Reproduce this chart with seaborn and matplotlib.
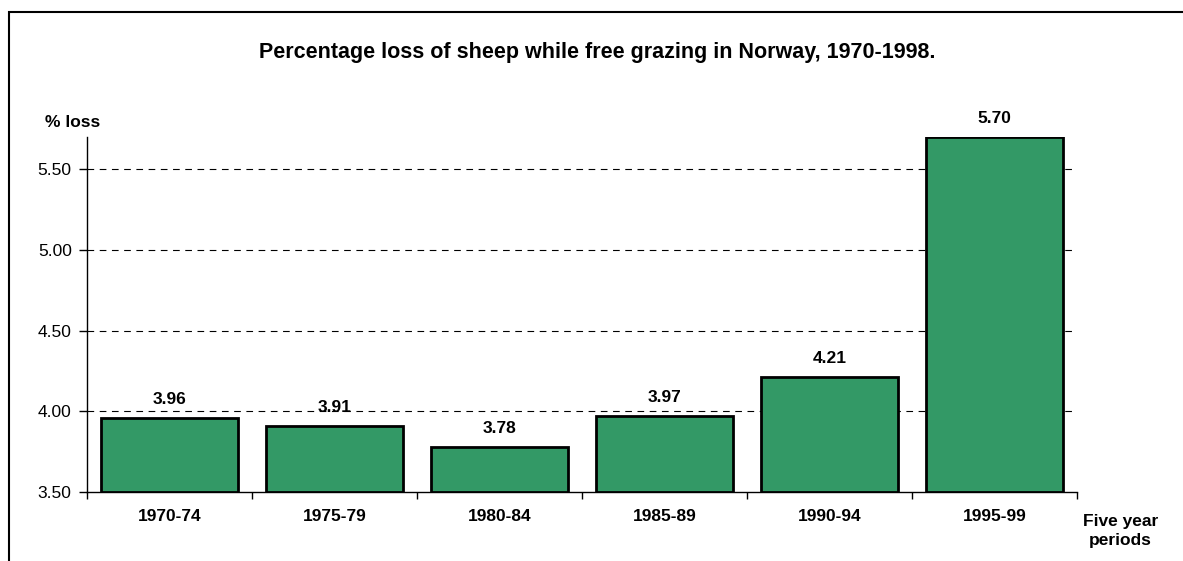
import numpy as np
import pandas as pd
import matplotlib
matplotlib.use("Agg")
import matplotlib.pyplot as plt
import seaborn as sns
from matplotlib.patches import Rectangle

periods = ["1970-74", "1975-79", "1980-84", "1985-89", "1990-94", "1995-99"]
loss_pct = [3.96, 3.91, 3.78, 3.97, 4.21, 5.70]
y_ticks = [3.50, 4.00, 4.50, 5.00, 5.50]

sns.set_style("white")
plt.rcParams["font.family"] = ["Liberation Sans", "DejaVu Sans"]
plt.rcParams["text.color"] = "black"
plt.rcParams["xtick.color"] = "black"
plt.rcParams["ytick.color"] = "black"

df = pd.DataFrame({"period": periods, "loss": loss_pct})

fig = plt.figure(figsize=(11.83, 5.61), dpi=100)
ax = fig.add_axes([0.0735, 0.123, 0.8369, 0.6328])

# bars start at 3.5, so draw them from the baseline
sns.barplot(data=df, x="period", y="loss", color="#339966", saturation=1,
            width=0.835, edgecolor="black", linewidth=2, ax=ax, zorder=3)
for p in ax.patches:
    h = p.get_height()
    p.set_y(3.5)
    p.set_height(h - 3.5)

ax.set_ylim(3.5, 5.7)
ax.set_xlim(-0.5, 5.5)
ax.set_yticks(y_ticks)
ax.set_yticklabels([f"{v:.2f}" for v in y_ticks], fontsize=12.5)
for v in y_ticks[1:]:
    ax.axhline(v, color="black", linestyle=(0, (6, 5)), linewidth=0.8, zorder=1)

# ticks on category boundaries, labels in the middle
ax.set_xticks(np.arange(-0.5, 6, 1))
ax.set_xticklabels([])
ax.set_xticks(range(len(periods)), minor=True)
ax.set_xticklabels(periods, minor=True, fontsize=12.5, fontweight="bold")
ax.tick_params(axis="x", which="minor", length=0, pad=12)
ax.tick_params(axis="x", which="major", direction="out", length=5, width=1, color="black", bottom=True)
ax.tick_params(axis="y", direction="out", length=6, width=1, color="black", left=True, pad=5)

for s in ["top", "right"]:
    ax.spines[s].set_visible(False)
for s in ["left", "bottom"]:
    ax.spines[s].set_color("black")
    ax.spines[s].set_linewidth(1)

ax.set_xlabel("")
ax.set_ylabel("")

for i, v in enumerate(loss_pct):
    ax.annotate(f"{v:.2f}", (i, v), xytext=(0, 8), textcoords="offset points",
                ha="center", va="bottom", fontsize=12.5, fontweight="bold")

fig.text(0.505, 0.907, "Percentage loss of sheep while free grazing in Norway, 1970-1998.",
         ha="center", va="center", fontsize=15.5, fontweight="bold")
fig.text(0.061, 0.781, "% loss", ha="center", va="center", fontsize=12.5, fontweight="bold")
fig.text(0.947, 0.054, "Five year\nperiods", ha="center", va="center",
         fontsize=12.5, fontweight="bold", linespacing=1.35)

# outer chart frame (runs off the right and bottom edges)
fig.add_artist(Rectangle((9 / 1183, -0.05), 1.2, 1 - 12 / 561 + 0.05,
                         transform=fig.transFigure, fill=False,
                         edgecolor="black", linewidth=1.5))

fig.savefig("out.png", dpi=100)
